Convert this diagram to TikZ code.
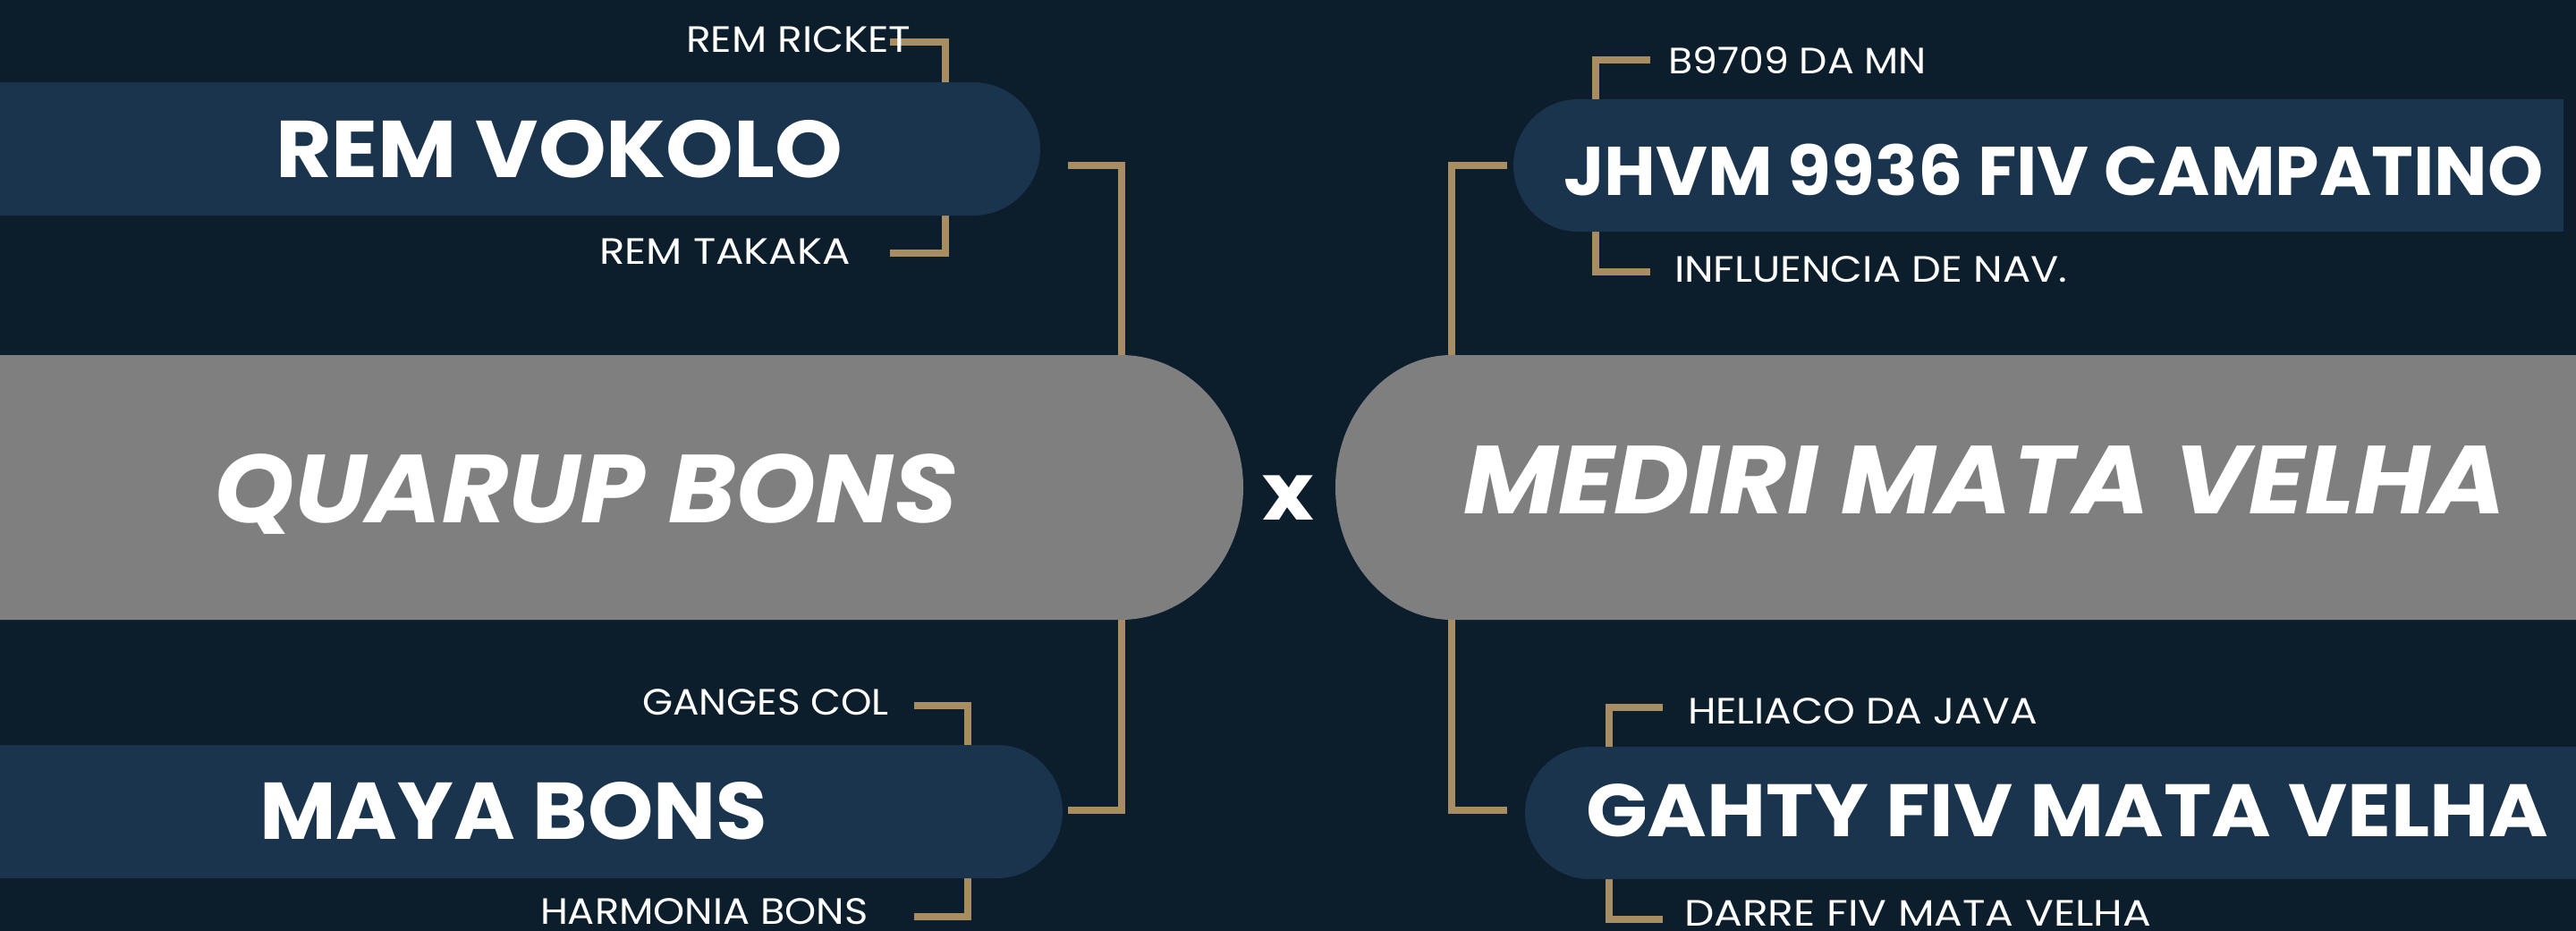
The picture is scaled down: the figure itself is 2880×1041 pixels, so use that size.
\documentclass[tikz,border=0pt]{standalone}
\usepackage{fontspec}
\setmainfont{Poppins}
\definecolor{bg}{HTML}{0C1D2B}
\definecolor{navy}{HTML}{1A344D}
\definecolor{greybox}{HTML}{7F7F7F}
\definecolor{gold}{HTML}{A88C62}
\tikzset{
  conn/.style={draw=gold, line width=7.5pt, line join=miter, line cap=butt},
  lab/.style={anchor=base west, inner sep=0pt, outer sep=0pt, text=white, font=\fontsize{41}{45}\selectfont},
  title/.style={anchor=base west, inner sep=0pt, outer sep=0pt, text=white, font=\bfseries\fontsize{90}{100}\selectfont},
  big/.style={anchor=base west, inner sep=0pt, outer sep=0pt, text=white, font=\bfseries\itshape\fontsize{108}{120}\selectfont},
}
\newcommand{\hstretch}[2]{\scalebox{#1}[1]{#2}}
\begin{document}
\begin{tikzpicture}[x=1pt,y=-1pt]
\fill[bg] (0,0) rectangle (2880,1041);
\useasboundingbox (0,0) rectangle (2880,1041);
\clip (0,0) rectangle (2880,1041);

% connector end points
\coordinate (rickE) at (995,47);
\coordinate (takaE) at (995,283);
\coordinate (gangE) at (1022,789);
\coordinate (harmE) at (1022,1025);
\coordinate (b97E) at (1845,67);
\coordinate (inflE) at (1845,304);
\coordinate (heliE) at (1859,791);
\coordinate (darrE) at (1859,1028);
\coordinate (vokR) at (1194,185);
\coordinate (mayaR) at (1194,906);
\coordinate (jhvmL) at (1685,185);
\coordinate (gahtyL) at (1685,906);

% connectors (behind boxes)
\draw[conn] (rickE) -- (1057,47) -- (1057,283) -- (takaE);
\draw[conn] (gangE) -- (1082,789) -- (1082,1025) -- (harmE);
\draw[conn] (b97E) -- (1784,67) -- (1784,304) -- (inflE);
\draw[conn] (heliE) -- (1799,791) -- (1799,1028) -- (darrE);
\draw[conn] (vokR) -- (1254,185) -- (1254,906) -- (mayaR);
\draw[conn] (jhvmL) -- (1623,185) -- (1623,906) -- (gahtyL);

% boxes
\fill[navy] (-10,92) -- (1088,92) arc[start angle=-90,end angle=90,x radius=75,y radius=74.5] -- (-10,241) -- cycle;
\fill[navy] (-10,833) -- (1115,833) arc[start angle=-90,end angle=90,x radius=73,y radius=74.5] -- (-10,982) -- cycle;
\fill[greybox] (-10,397) -- (1253,397) arc[start angle=-90,end angle=90,x radius=137,y radius=148] -- (-10,693) -- cycle;
\fill[navy] (2866,111) -- (1764,111) arc[start angle=270,end angle=90,x radius=72,y radius=74] -- (2866,259) -- cycle;
\fill[navy] (2890,835) -- (1777,835) arc[start angle=270,end angle=90,x radius=72,y radius=74] -- (2890,983) -- cycle;
\fill[greybox] (2890,397) -- (1623,397) arc[start angle=270,end angle=90,x radius=130,y radius=148] -- (2890,693) -- cycle;

% titles
\node[title] (vokolo) at (308,198) {\hstretch{1.07}{REM VOKOLO}};
\node[title] (maya) at (290,938) {\hstretch{1.037}{MAYA BONS}};
\node[title, font=\bfseries\fontsize{77}{90}\selectfont] (jhvm) at (1748,218) {\hstretch{1.028}{JHVM 9936 FIV CAMPATINO}};
\node[title, font=\bfseries\fontsize{83}{90}\selectfont] (gahty) at (1773,935) {\hstretch{1.09}{GAHTY FIV MATA VELHA}};
\node[big] (quarup) at (239,584) {\hstretch{1.06}{QUARUP BONS}};
\node[big] (mediri) at (1636,574) {\hstretch{1.07}{MEDIRI MATA VELHA}};
\node[title, font=\bfseries\fontsize{89}{90}\selectfont] (vs) at (1411,581) {\hstretch{1.1}{x}};

% labels
\node[lab] (ricket) at (767,59) {\hstretch{1.11}{REM RICKET}};
\node[lab] (takaka) at (670,295) {\hstretch{1.14}{REM TAKAKA}};
\node[lab] (ganges) at (718,799) {\hstretch{1.07}{GANGES COL}};
\node[lab] (harmonia) at (604,1033) {\hstretch{1.09}{HARMONIA BONS}};
\node[lab] (b9709) at (1865,82) {\hstretch{1.08}{B9709 DA MN}};
\node[lab] (influencia) at (1872,315) {\hstretch{1.13}{INFLUENCIA DE NAV.}};
\node[lab] (heliaco) at (1887,809) {\hstretch{1.11}{HELIACO DA JAVA}};
\node[lab] (darre) at (1883,1035) {\hstretch{1.15}{DARRE FIV MATA VELHA}};
\end{tikzpicture}
\end{document}
